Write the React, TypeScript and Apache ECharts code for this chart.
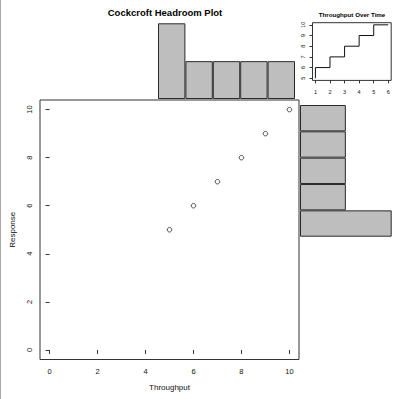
import React, { useEffect, useRef } from "react";
import * as echarts from "echarts";

// Data
const throughput = [5, 6, 7, 8, 9, 10];
const response = [5, 6, 7, 8, 9, 10];
const timeIdx = [1, 2, 3, 4, 5, 6];
const histBins = ["5-6", "6-7", "7-8", "8-9", "9-10"];
const throughputCounts = [2, 1, 1, 1, 1];
const responseCounts = [2, 1, 1, 1, 1];
const mainTicks = [0, 2, 4, 6, 8, 10];
const insetXTicks = [1, 2, 3, 4, 5, 6];
const insetYTicks = [5, 6, 7, 8, 9, 10];

const FONT = "Liberation Sans, Arial, sans-serif";
const HIST_FILL = "#bebebe";
const EDGE = "#2a2a2a";
const TXT = "#111";

export default function App() {
  const ref = useRef<HTMLDivElement>(null);
  useEffect(() => {
    if (!ref.current) return;
    const chart = echarts.init(ref.current, undefined, { renderer: "svg" });
    const scatterData = throughput.map((x, i) => [x, response[i]]);
    const stepData = timeIdx.map((t, i) => [t, throughput[i]]);
    chart.setOption({
      animation: false,
      backgroundColor: "#ffffff",
      textStyle: { fontFamily: FONT },
      title: [
        {
          text: "Cockcroft Headroom Plot",
          left: 165,
          top: 7,
          textAlign: "center",
          padding: 0,
          textStyle: { fontSize: 9.5, fontWeight: "bold", color: "#000", fontFamily: FONT },
        },
        {
          text: "Throughput Over Time",
          left: 352,
          top: 11,
          textAlign: "center",
          padding: 0,
          textStyle: { fontSize: 6.2, fontWeight: "bold", color: "#000", fontFamily: FONT },
        },
      ],
      grid: [
        {
          left: 32, top: 100, width: 267, height: 259.5,
          show: true, borderColor: "#333", borderWidth: 1, backgroundColor: "#fff",
        },
        { left: 158, top: 23.3, width: 137, height: 75.7 },
        { left: 300, top: 105, width: 91.7, height: 131.7 },
        {
          left: 312.5, top: 22.7, width: 78.7, height: 57.7,
          show: true, borderColor: "#333", borderWidth: 1, backgroundColor: "#fff",
        },
      ],
      xAxis: [
        {
          gridIndex: 0, type: "value", min: -0.4, max: 10.4,
          axisLine: { show: false },
          axisTick: { show: true, customValues: mainTicks, length: 4, lineStyle: { color: "#333" } },
          axisLabel: { customValues: mainTicks, fontSize: 7.5, color: TXT, margin: 8, fontFamily: FONT },
          splitLine: { show: false },
          name: "Throughput", nameLocation: "middle", nameGap: 24,
          nameTextStyle: { fontSize: 8, color: TXT, fontFamily: FONT },
        },
        {
          gridIndex: 1, type: "category", data: histBins, show: false,
        },
        {
          gridIndex: 2, type: "value", min: 0, max: 2, show: false,
        },
        {
          gridIndex: 3, type: "value", min: 0.8, max: 6.2,
          axisLine: { show: false },
          axisTick: { show: true, customValues: insetXTicks, length: 3, lineStyle: { color: "#333" } },
          axisLabel: { customValues: insetXTicks, fontSize: 5.5, color: TXT, margin: 9, fontFamily: FONT },
          splitLine: { show: false },
        },
      ],
      yAxis: [
        {
          gridIndex: 0, type: "value", min: -0.4, max: 10.4,
          axisLine: { show: false },
          axisTick: { show: true, customValues: mainTicks, length: 4, lineStyle: { color: "#333" } },
          axisLabel: { customValues: mainTicks, fontSize: 7.5, color: TXT, margin: 7, rotate: 90, fontFamily: FONT },
          splitLine: { show: false },
          name: "Response", nameLocation: "middle", nameGap: 24,
          nameTextStyle: { fontSize: 8, color: TXT, fontFamily: FONT },
        },
        {
          gridIndex: 1, type: "value", min: 0, max: 2, show: false,
        },
        {
          gridIndex: 2, type: "category", data: histBins, show: false,
        },
        {
          gridIndex: 3, type: "value", min: 4.8, max: 10.2,
          axisLine: { show: false },
          axisTick: { show: true, customValues: insetYTicks, length: 3, lineStyle: { color: "#333" } },
          axisLabel: { customValues: insetYTicks, fontSize: 5.5, color: TXT, margin: 7, rotate: 90, fontFamily: FONT },
          splitLine: { show: false },
        },
      ],
      series: [
        {
          type: "scatter", xAxisIndex: 0, yAxisIndex: 0,
          data: scatterData, symbol: "circle", symbolSize: 4.5,
          itemStyle: { color: "#ffffff", borderColor: "#333", borderWidth: 0.9, opacity: 1 },
        },
        {
          type: "bar", xAxisIndex: 1, yAxisIndex: 1,
          data: throughputCounts, barCategoryGap: "0%",
          itemStyle: { color: HIST_FILL, borderColor: EDGE, borderWidth: 1 },
        },
        {
          type: "bar", xAxisIndex: 2, yAxisIndex: 2,
          data: responseCounts, barCategoryGap: "0%",
          itemStyle: { color: HIST_FILL, borderColor: EDGE, borderWidth: 1 },
        },
        {
          type: "line", xAxisIndex: 3, yAxisIndex: 3,
          data: stepData, step: "start", symbol: "none",
          lineStyle: { color: "#111", width: 1 },
        },
      ],
      graphic: [
        {
          type: "line", shape: { x1: 0.5, y1: 0, x2: 0.5, y2: 399 },
          style: { stroke: "#aaa", lineWidth: 1 },
        },
      ],
    });
    return () => chart.dispose();
  }, []);
  return (
    <div
      ref={ref}
      style={{ position: "fixed", left: 0, top: 0, width: 400, height: 399 }}
    />
  );
}
